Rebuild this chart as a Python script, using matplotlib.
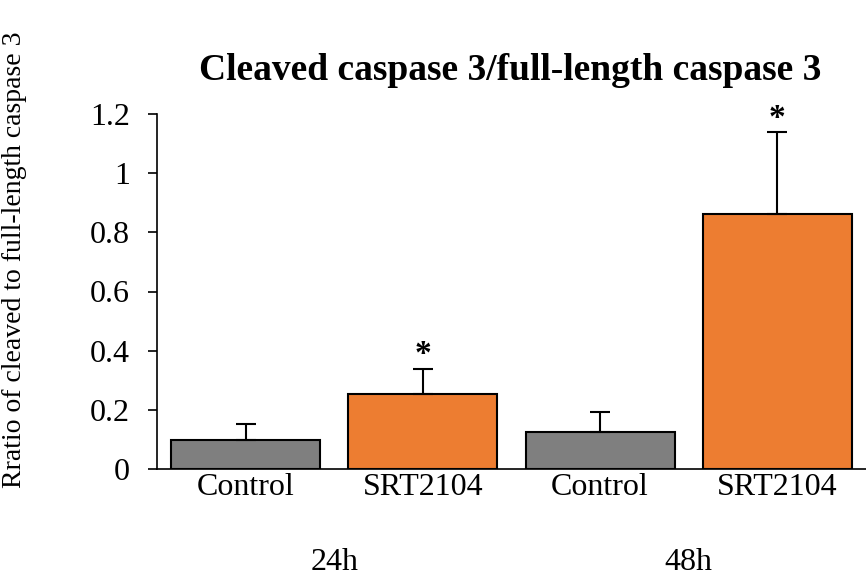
import matplotlib.pyplot as plt

plt.rcParams['font.family'] = ['Liberation Serif', 'DejaVu Serif']

labels = ['Control', 'SRT2104', 'Control', 'SRT2104']
groups = ['24h', '48h']
values = [0.098, 0.254, 0.125, 0.862]
errors = [0.054, 0.084, 0.068, 0.277]
colors = ['#7f7f7f', '#ed7d31', '#7f7f7f', '#ed7d31']
signif = ['', '*', '', '*']

fig = plt.figure(figsize=(8.66, 5.78), dpi=100)
ax = fig.add_axes([157 / 866, 1 - 469 / 578, 709 / 866, 355 / 578])

x = list(range(len(values)))
ax.bar(x, values, width=0.84, color=colors, edgecolor='black', linewidth=1.5,
       yerr=[[0] * len(errors), errors], capsize=7,
       error_kw={'elinewidth': 1.5, 'capthick': 1.5}, zorder=2)

for i in x:
    if signif[i]:
        ax.text(i, values[i] + errors[i] - 0.005, signif[i], ha='center',
                va='bottom', fontsize=24, fontweight='bold')

ax.set_xlim(-0.5, 3.5)
ax.set_ylim(0, 1.2)
ax.set_yticks([0, 0.2, 0.4, 0.6, 0.8, 1, 1.2])
ax.set_yticklabels(['0', '0.2', '0.4', '0.6', '0.8', '1', '1.2'])
ax.set_xticks(x)
ax.set_xticklabels(labels)
ax.tick_params(axis='x', length=0, pad=3, labelsize=23)
ax.tick_params(axis='y', length=6.5, width=1.2, labelsize=23, pad=13)
ax.spines['top'].set_visible(False)
ax.spines['right'].set_visible(False)
ax.spines['left'].set_linewidth(1.2)
ax.spines['bottom'].set_linewidth(1.2)

for gi, g in enumerate(groups):
    ax.text(gi * 2 + 0.5, -0.315, g, ha='center', va='center', fontsize=23,
            transform=ax.transData)

ax.set_ylabel('Rratio of cleaved to full-length caspase 3', fontsize=20)
ax.yaxis.set_label_coords(-0.183, 0.59)
fig.text(510 / 866, 1 - 70 / 578, 'Cleaved caspase 3/full-length caspase 3',
         ha='center', va='center', fontsize=27, fontweight='bold')

fig.savefig('out.png', dpi=100)
